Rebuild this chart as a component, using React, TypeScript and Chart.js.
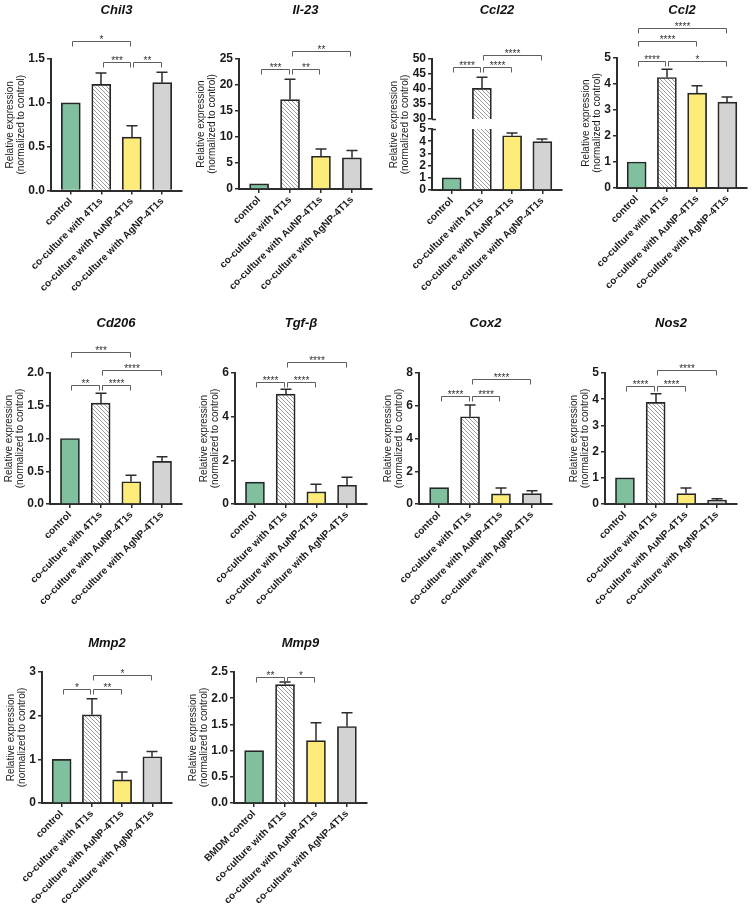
import React, { useEffect, useRef } from 'react';
import { Chart, registerables } from 'chart.js';

Chart.register(...registerables);

const FONT = "'Liberation Sans', Arial, Helvetica, sans-serif";
Chart.defaults.font.family = FONT;
Chart.defaults.color = '#1a1a1a';

// ---------------- data ----------------
const categories = ['control', 'co-culture with 4T1s', 'co-culture with AuNP-4T1s', 'co-culture with AgNP-4T1s'];
const mmp9Categories = ['BMDM control', 'co-culture with 4T1s', 'co-culture with AuNP-4T1s', 'co-culture with AgNP-4T1s'];
const yTitleLines = ['Relative expression', '(normalized to control)'];

// [from bar, to bar, height (y value), label]
type Bracket = [number, number, number, string];

const chil3Means = [1.0, 1.21, 0.61, 1.23];
const chil3Errors = [0, 0.13, 0.13, 0.12];
const chil3Ticks = [0, 0.5, 1.0, 1.5];
const chil3Sig: Bracket[] = [[0, 2, 1.70, '*'], [1, 2, 1.47, '***'], [2, 3, 1.47, '**']];

const il23Means = [1.0, 17.2, 6.3, 6.0];
const il23Errors = [0, 3.9, 1.4, 1.4];
const il23Ticks = [0, 5, 10, 15, 20, 25];
const il23Sig: Bracket[] = [[0, 1, 23.1, '***'], [1, 2, 23.1, '**'], [1, 3, 26.5, '**']];

const ccl22Means = [1.0, 40.2, 4.45, 3.97];
const ccl22Errors = [0, 3.7, 0.22, 0.22];
const ccl22LowTicks = [0, 1, 2, 3, 4, 5];
const ccl22HighTicks = [30, 35, 40, 45, 50];
const ccl22Sig: Bracket[] = [[0, 1, 47.2, '****'], [1, 2, 47.2, '****'], [1, 3, 51.2, '****']];

const ccl2Means = [1.0, 4.25, 3.65, 3.3];
const ccl2Errors = [0, 0.32, 0.28, 0.2];
const ccl2Ticks = [0, 1, 2, 3, 4, 5];
const ccl2Sig: Bracket[] = [[0, 1, 4.87, '****'], [1, 3, 4.87, '*'], [0, 2, 5.64, '****'], [0, 3, 6.15, '****']];

const cd206Means = [1.0, 1.54, 0.34, 0.65];
const cd206Errors = [0, 0.15, 0.1, 0.07];
const cd206Ticks = [0, 0.5, 1.0, 1.5, 2.0];
const cd206Sig: Bracket[] = [[0, 1, 1.82, '**'], [1, 2, 1.82, '****'], [1, 3, 2.04, '****'], [0, 2, 2.32, '***']];

const tgfbMeans = [1.0, 5.03, 0.56, 0.86];
const tgfbErrors = [0, 0.23, 0.34, 0.36];
const tgfbTicks = [0, 2, 4, 6];
const tgfbSig: Bracket[] = [[0, 1, 5.6, '****'], [1, 2, 5.6, '****'], [1, 3, 6.49, '****']];

const cox2Means = [1.0, 5.33, 0.62, 0.64];
const cox2Errors = [0, 0.72, 0.36, 0.17];
const cox2Ticks = [0, 2, 4, 6, 8];
const cox2Sig: Bracket[] = [[0, 1, 6.62, '****'], [1, 2, 6.62, '****'], [1, 3, 7.66, '****']];

const nos2Means = [1.0, 3.88, 0.4, 0.15];
const nos2Errors = [0, 0.33, 0.21, 0.05];
const nos2Ticks = [0, 1, 2, 3, 4, 5];
const nos2Sig: Bracket[] = [[0, 1, 4.49, '****'], [1, 2, 4.49, '****'], [1, 3, 5.13, '****']];

const mmp2Means = [1.0, 2.02, 0.53, 1.06];
const mmp2Errors = [0, 0.37, 0.18, 0.12];
const mmp2Ticks = [0, 1, 2, 3];
const mmp2Sig: Bracket[] = [[0, 1, 2.6, '*'], [1, 2, 2.6, '**'], [1, 3, 2.92, '*']];

const mmp9Means = [1.0, 2.26, 1.19, 1.46];
const mmp9Errors = [0, 0.05, 0.34, 0.26];
const mmp9Ticks = [0, 0.5, 1.0, 1.5, 2.0, 2.5];
const mmp9Sig: Bracket[] = [[0, 1, 2.40, '**'], [1, 2, 2.40, '*']];

// ---------------- styles ----------------
const GREEN = '#80c09f';
const YELLOW = '#fdec7a';
const GREY = '#d3d3d3';
const EDGE = '#262626';
const AXIS = '#2d2d2d';

function hatchPattern(ctx: CanvasRenderingContext2D) {
  const s = 4;
  const c = document.createElement('canvas');
  c.width = s; c.height = s;
  const g = c.getContext('2d')!;
  g.fillStyle = '#ffffff';
  g.fillRect(0, 0, s, s);
  g.strokeStyle = '#9c9c9c';
  g.lineWidth = 1;
  g.beginPath();
  g.moveTo(0, 0); g.lineTo(s, s);
  g.moveTo(-1, s - 1); g.lineTo(1, s + 1);
  g.moveTo(s - 1, -1); g.lineTo(s + 1, 1);
  g.stroke();
  return ctx.createPattern(c, 'repeat');
}

interface Panel {
  id: string;
  title?: string;
  titleY?: number;
  labels: string[];
  means: number[];
  errors: number[];
  brackets: Bracket[];
  yTicks: number[];
  decimals: number;
  area: { l: number; r: number; t: number; b: number };
  boxTop: number;
  boxHeight: number;
  showX: boolean;
  yTitle?: { top: number; bottom: number; ref: string } | null;
  breakCap?: 'top' | 'bottom';
}

const ROW1 = { top: 0, h: 300 };
const ROW2 = { top: 300, h: 320 };
const ROW3 = { top: 615, h: 296 };

const panels: Panel[] = [
  { id: 'chil3', title: 'Chil3', titleY: 10, labels: categories, means: chil3Means, errors: chil3Errors, brackets: chil3Sig, yTicks: chil3Ticks, decimals: 1,
    area: { l: 51, r: 182, t: 59, b: 190.5 }, boxTop: ROW1.top, boxHeight: ROW1.h, showX: true, yTitle: { top: 59, bottom: 190.5, ref: '1.5' } },
  { id: 'il23', title: 'Il-23', titleY: 10, labels: categories, means: il23Means, errors: il23Errors, brackets: il23Sig, yTicks: il23Ticks, decimals: 0,
    area: { l: 239, r: 372, t: 59, b: 189 }, boxTop: ROW1.top, boxHeight: ROW1.h, showX: true, yTitle: { top: 59, bottom: 189, ref: '25' } },
  { id: 'ccl22lo', title: 'Ccl22', titleY: 10, labels: categories, means: ccl22Means, errors: ccl22Errors, brackets: [], yTicks: ccl22LowTicks, decimals: 0,
    area: { l: 432, r: 562, t: 129, b: 190 }, boxTop: ROW1.top, boxHeight: ROW1.h, showX: true, yTitle: { top: 59, bottom: 190, ref: '50' }, breakCap: 'top' },
  { id: 'ccl22hi', labels: categories, means: ccl22Means, errors: ccl22Errors, brackets: ccl22Sig, yTicks: ccl22HighTicks, decimals: 0,
    area: { l: 432, r: 562, t: 59, b: 119 }, boxTop: ROW1.top, boxHeight: ROW1.h, showX: false, yTitle: null, breakCap: 'bottom' },
  { id: 'ccl2', title: 'Ccl2', titleY: 10, labels: categories, means: ccl2Means, errors: ccl2Errors, brackets: ccl2Sig, yTicks: ccl2Ticks, decimals: 0,
    area: { l: 617, r: 747, t: 58, b: 188 }, boxTop: ROW1.top, boxHeight: ROW1.h, showX: true, yTitle: { top: 58, bottom: 188, ref: '5' } },

  { id: 'cd206', title: 'Cd206', titleY: 323, labels: categories, means: cd206Means, errors: cd206Errors, brackets: cd206Sig, yTicks: cd206Ticks, decimals: 1,
    area: { l: 50, r: 182, t: 373, b: 504 }, boxTop: ROW2.top, boxHeight: ROW2.h, showX: true, yTitle: { top: 373, bottom: 504, ref: '2.0' } },
  { id: 'tgfb', title: 'Tgf-β', titleY: 323, labels: categories, means: tgfbMeans, errors: tgfbErrors, brackets: tgfbSig, yTicks: tgfbTicks, decimals: 0,
    area: { l: 235, r: 367, t: 373, b: 504 }, boxTop: ROW2.top, boxHeight: ROW2.h, showX: true, yTitle: { top: 373, bottom: 504, ref: '6' } },
  { id: 'cox2', title: 'Cox2', titleY: 323, labels: categories, means: cox2Means, errors: cox2Errors, brackets: cox2Sig, yTicks: cox2Ticks, decimals: 0,
    area: { l: 419, r: 552, t: 373, b: 504 }, boxTop: ROW2.top, boxHeight: ROW2.h, showX: true, yTitle: { top: 373, bottom: 504, ref: '8' } },
  { id: 'nos2', title: 'Nos2', titleY: 323, labels: categories, means: nos2Means, errors: nos2Errors, brackets: nos2Sig, yTicks: nos2Ticks, decimals: 0,
    area: { l: 605, r: 737, t: 373, b: 504 }, boxTop: ROW2.top, boxHeight: ROW2.h, showX: true, yTitle: { top: 373, bottom: 504, ref: '5' } },

  { id: 'mmp2', title: 'Mmp2', titleY: 643, labels: categories, means: mmp2Means, errors: mmp2Errors, brackets: mmp2Sig, yTicks: mmp2Ticks, decimals: 0,
    area: { l: 42, r: 172, t: 672, b: 803 }, boxTop: ROW3.top, boxHeight: ROW3.h, showX: true, yTitle: { top: 672, bottom: 803, ref: '3' } },
  { id: 'mmp9', title: 'Mmp9', titleY: 643, labels: mmp9Categories, means: mmp9Means, errors: mmp9Errors, brackets: mmp9Sig, yTicks: mmp9Ticks, decimals: 1,
    area: { l: 234, r: 367, t: 672, b: 803 }, boxTop: ROW3.top, boxHeight: ROW3.h, showX: true, yTitle: { top: 672, bottom: 803, ref: '2.5' } },
];

const X_MIN = -0.65;
const X_MAX = 3.65;

function BarPanel({ p }: { p: Panel }) {
  const ref = useRef<HTMLCanvasElement>(null);
  const boxLeft = Math.max(0, p.area.l - 56);
  const boxRight = p.area.r + 6;
  const W = Math.round(boxRight - boxLeft);
  const H = p.boxHeight;

  useEffect(() => {
    const canvas = ref.current!;
    const ctx0 = canvas.getContext('2d')!;
    const fills = [GREEN, hatchPattern(ctx0), YELLOW, GREY];
    const fmt = (v: number) => Number(v).toFixed(p.decimals);

    const overlay = {
      id: 'overlay_' + p.id,
      afterDatasetsDraw(chart: any) {
        const ctx = chart.ctx;
        const ys = chart.scales.y;
        const meta = chart.getDatasetMeta(0);
        ctx.save();
        ctx.strokeStyle = AXIS;
        ctx.lineWidth = 1.5;
        meta.data.forEach((bar: any, i: number) => {
          const v = p.means[i];
          const e = p.errors[i];
          if (!e) return;
          if (v > ys.max + 1e-9 || v + e < ys.min) return;
          const y0 = ys.getPixelForValue(v);
          const y1 = ys.getPixelForValue(v + e);
          const x = Math.round(bar.x);
          ctx.beginPath();
          ctx.moveTo(x, y0);
          ctx.lineTo(x, y1);
          ctx.moveTo(x - 5.5, y1);
          ctx.lineTo(x + 5.5, y1);
          ctx.stroke();
        });
        ctx.restore();
      },
      afterDraw(chart: any) {
        const ctx = chart.ctx;
        const xs = chart.scales.x;
        const ys = chart.scales.y;
        const ca = chart.chartArea;
        ctx.save();
        // significance brackets
        ctx.strokeStyle = '#5e5e5e';
        ctx.lineWidth = 1;
        ctx.fillStyle = '#333';
        ctx.font = `10px ${FONT}`;
        ctx.textAlign = 'center';
        ctx.textBaseline = 'alphabetic';
        for (const [a, b, yv, txt] of p.brackets) {
          const x1 = Math.round(xs.getPixelForValue(a) + 1.5) + 0.5;
          const x2 = Math.round(xs.getPixelForValue(b) - 1.5) + 0.5;
          const y = Math.round(ys.getPixelForValue(yv)) + 0.5;
          ctx.beginPath();
          ctx.moveTo(x1, y + 5);
          ctx.lineTo(x1, y);
          ctx.lineTo(x2, y);
          ctx.lineTo(x2, y + 5);
          ctx.stroke();
          ctx.fillText(txt, (x1 + x2) / 2, y + 1.5);
        }
        // panel title
        if (p.title) {
          ctx.fillStyle = '#111';
          ctx.font = `italic bold 13px ${FONT}`;
          ctx.textAlign = 'center';
          ctx.textBaseline = 'middle';
          ctx.fillText(p.title, (ca.left + ca.right) / 2, (p.titleY || 0) - p.boxTop);
        }
        // y-axis title
        if (p.yTitle) {
          ctx.font = `bold 12px ${FONT}`;
          const w = ctx.measureText(p.yTitle.ref).width;
          const x2 = ca.left - (w + 13);
          const x1 = x2 - 11.5;
          const cy = (p.yTitle.top + p.yTitle.bottom) / 2 - p.boxTop;
          ctx.fillStyle = '#1a1a1a';
          ctx.font = `10px ${FONT}`;
          ctx.textAlign = 'center';
          ctx.textBaseline = 'middle';
          [x1, x2].forEach((x, i) => {
            ctx.save();
            ctx.translate(x, cy);
            ctx.rotate(-Math.PI / 2);
            ctx.fillText(yTitleLines[i], 0, 0);
            ctx.restore();
          });
        }
        // axis break caps
        if (p.breakCap) {
          const y = p.breakCap === 'top' ? ca.top : ca.bottom;
          ctx.strokeStyle = AXIS;
          ctx.lineWidth = 1.5;
          ctx.beginPath();
          ctx.moveTo(ca.left, Math.round(y) + 0.5);
          ctx.lineTo(ca.left + 4, Math.round(y) + 0.5);
          ctx.stroke();
        }
        ctx.restore();
      },
    };

    const chart = new Chart(canvas, {
      type: 'bar',
      data: {
        datasets: [
          {
            data: p.means.map((v, i) => ({ x: i, y: v })),
            backgroundColor: fills as any,
            borderColor: EDGE,
            borderWidth: 1.7,
            borderSkipped: 'start',
            barThickness: 19,
            clip: 0,
          } as any,
        ],
      },
      options: {
        animation: false,
        responsive: false,
        maintainAspectRatio: false,
        events: [],
        layout: {
          padding: {
            left: 0,
            top: p.area.t - p.boxTop,
            right: boxRight - p.area.r,
            bottom: p.showX ? 0 : p.boxTop + H - p.area.b,
          },
        },
        plugins: {
          legend: { display: false },
          tooltip: { enabled: false },
          title: { display: false },
        },
        scales: {
          x: {
            type: 'linear',
            display: p.showX,
            min: X_MIN,
            max: X_MAX,
            offset: false,
            afterBuildTicks: (s: any) => {
              s.ticks = p.labels.map((_, i) => ({ value: i }));
            },
            afterFit: (s: any) => {
              s.height = p.showX ? p.boxTop + H - p.area.b : 0;
            },
            ticks: {
              autoSkip: false,
              minRotation: 45,
              maxRotation: 45,
              padding: 1,
              color: '#1a1a1a',
              font: { size: 10, weight: 'bold', family: FONT },
              callback: (v: any) => p.labels[Math.round(Number(v))] ?? '',
            },
            grid: {
              offset: false,
              drawOnChartArea: false,
              drawTicks: true,
              tickLength: 4,
              color: AXIS,
              lineWidth: 1.5,
            },
            border: { display: true, color: AXIS, width: 2 },
          } as any,
          y: {
            type: 'linear',
            min: p.yTicks[0],
            max: p.yTicks[p.yTicks.length - 1],
            afterBuildTicks: (s: any) => {
              s.ticks = p.yTicks.map((v) => ({ value: v }));
            },
            afterFit: (s: any) => {
              s.width = p.area.l - boxLeft;
            },
            ticks: {
              autoSkip: false,
              padding: 2,
              color: '#1a1a1a',
              font: { size: 12, weight: 'bold', family: FONT },
              callback: (v: any) => fmt(v),
            },
            grid: {
              drawOnChartArea: false,
              drawTicks: true,
              tickLength: 4,
              color: AXIS,
              lineWidth: 1.5,
            },
            border: { display: true, color: AXIS, width: 2 },
            title: { display: false },
          } as any,
        },
      },
      plugins: [overlay as any],
    });
    return () => chart.destroy();
  }, []);

  return (
    <canvas
      ref={ref}
      width={W}
      height={H}
      style={{ position: 'absolute', left: boxLeft, top: p.boxTop, width: W, height: H }}
    />
  );
}

export default function App() {
  return (
    <div style={{ position: 'absolute', left: 0, top: 0, width: 753, height: 911, background: '#ffffff', overflow: 'hidden' }}>
      {panels.map((p) => (
        <BarPanel key={p.id} p={p} />
      ))}
    </div>
  );
}
